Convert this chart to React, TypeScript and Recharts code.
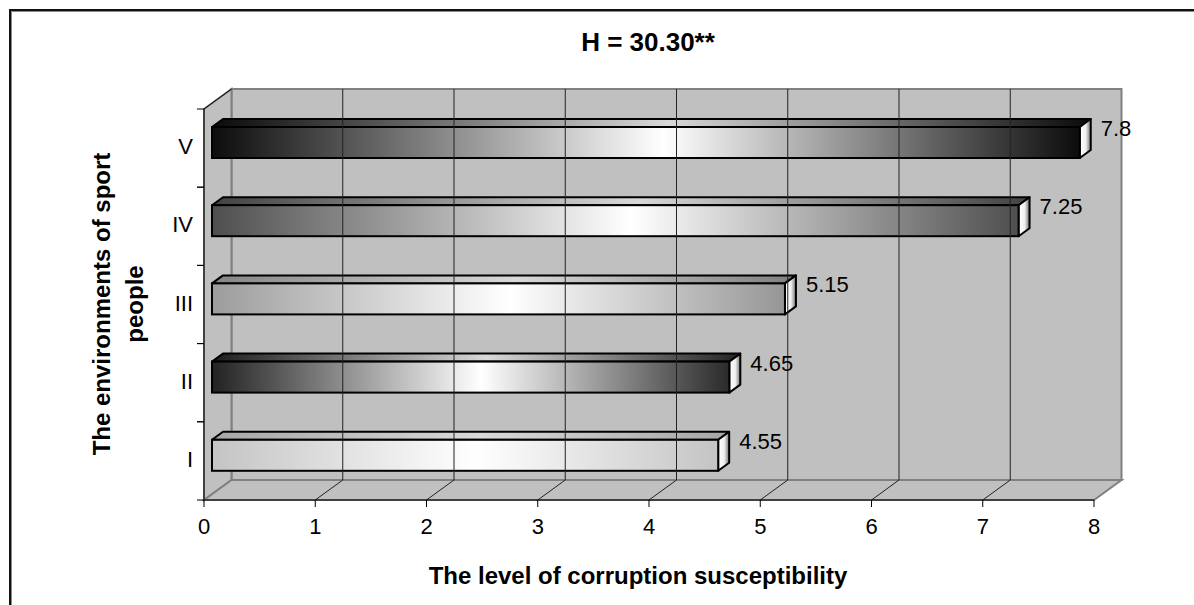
import React from 'react';
import { BarChart, Bar, XAxis, YAxis, ReferenceArea, ReferenceLine, LabelList } from 'recharts';

// ---- data ----
const categories = ['I', 'II', 'III', 'IV', 'V'];
const values = [4.55, 4.65, 5.15, 7.25, 7.8];
const xTicks = [0, 1, 2, 3, 4, 5, 6, 7, 8];
const gridTicks = [1, 2, 3, 4, 5, 6, 7];
const chartTitle = 'H = 30.30**';
const xTitle = 'The level of corruption susceptibility';
const yTitleLines = ['The environments of sport', 'people'];

// ---- styles ----
const edgeLeft = ['#c4c4c4', '#222222', '#9c9c9c', '#4e4e4e', '#0c0c0c'];
const edgeRight = ['#c4c4c4', '#2a2a2a', '#969696', '#4e4e4e', '#0c0c0c'];
const FONT = '"Liberation Sans", Arial, Helvetica, sans-serif';
const WALL_DX = 27.5;
const WALL_DY = -20;
const BAR_DX = 8;
const BAR_DY = -6;
const DEPTH_DX = 11;
const DEPTH_DY = -8;

const data = categories.map((c, i) => ({ name: c, value: values[i], idx: i }));

const Walls = (p: any) => {
  const { x, y, width, height } = p;
  const l = x, r = x + width, t = y, b = y + height;
  const dx = WALL_DX, dy = WALL_DY;
  return (
    <g>
      <polygon points={`${l + dx},${t + dy} ${r + dx},${t + dy} ${r + dx},${b + dy} ${l + dx},${b + dy}`} fill="#c0c0c0" stroke="#808080" strokeWidth={2} />
      <polygon points={`${l},${t} ${l + dx},${t + dy} ${l + dx},${b + dy} ${l},${b}`} fill="#c0c0c0" stroke="#808080" strokeWidth={2} />
      <polygon points={`${l},${b} ${l + dx},${b + dy} ${r + dx},${b + dy} ${r},${b}`} fill="#c0c0c0" stroke="#808080" strokeWidth={2} />
      <line x1={l} y1={t} x2={l + dx} y2={t + dy} stroke="#000" strokeWidth={1} />
    </g>
  );
};

const GridShape = (p: any) => {
  const { x1, y1, y2 } = p;
  if (x1 == null) return <g />;
  const top = Math.min(y1, y2), bot = Math.max(y1, y2);
  return (
    <g>
      <line x1={x1 + WALL_DX} y1={top + WALL_DY} x2={x1 + WALL_DX} y2={bot + WALL_DY} stroke="#222" strokeWidth={1} />
      <line x1={x1} y1={bot} x2={x1 + WALL_DX} y2={bot + WALL_DY} stroke="#222" strokeWidth={1} />
    </g>
  );
};

const Bar3D = (p: any) => {
  const { x, y, width, height } = p;
  const i = p.payload && p.payload.idx != null ? p.payload.idx : p.index;
  const fx = x + BAR_DX, fy = y + BAR_DY, w = width, h = height;
  const top = `${fx},${fy} ${fx + DEPTH_DX},${fy + DEPTH_DY} ${fx + w + DEPTH_DX},${fy + DEPTH_DY} ${fx + w},${fy}`;
  const end = `${fx + w},${fy} ${fx + w + DEPTH_DX},${fy + DEPTH_DY} ${fx + w + DEPTH_DX},${fy + h + DEPTH_DY} ${fx + w},${fy + h}`;
  return (
    <g>
      <polygon points={top} fill={`url(#gf${i})`} stroke="none" />
      <polygon points={top} fill="#000" fillOpacity={0.15} stroke="#000" strokeWidth={2} strokeLinejoin="round" />
      <polygon points={end} fill="url(#gend)" stroke="#000" strokeWidth={2} strokeLinejoin="round" />
      <rect x={fx} y={fy} width={w} height={h} fill={`url(#gf${i})`} stroke="#000" strokeWidth={2} />
    </g>
  );
};

const BarLabel = (p: any) => {
  const { x, y, width, value } = p;
  return (
    <text x={x + width + BAR_DX + DEPTH_DX + 10} y={y + BAR_DY + 9} fontSize={22} fontFamily={FONT} fill="#000">
      {value}
    </text>
  );
};

const YTick = (p: any) => {
  const { x, y, payload } = p;
  const off = payload && payload.offset ? payload.offset : 39.1;
  const ax = x + 11;
  return (
    <g>
      <line x1={ax - 7} y1={y - off} x2={ax} y2={y - off} stroke="#000" strokeWidth={1} />
      <line x1={ax - 7} y1={y + off} x2={ax} y2={y + off} stroke="#000" strokeWidth={1} />
      <text x={x} y={y + 6} textAnchor="end" fontSize={22} fontFamily={FONT} fill="#000">{payload.value}</text>
    </g>
  );
};

export default function App() {
  return (
    <div style={{ position: 'absolute', left: 0, top: 0, width: 1194, height: 605, overflow: 'hidden', background: '#fff' }}>
      <div style={{ position: 'absolute', left: 9, top: 9, width: 1300, height: 700, borderTop: '2px solid #111', borderLeft: '2px solid #111', boxShadow: 'inset 1px 1px 0 #888' }} />
      <div style={{ position: 'absolute', left: 0, top: 0 }}>
        <BarChart width={1194} height={605} data={data} layout="vertical" margin={{ top: 109, right: 100, left: 144, bottom: 75 }} barSize={31}>
          <defs>
            {categories.map((c, i) => (
              <linearGradient key={c} id={`gf${i}`} x1="0" y1="0" x2="1" y2="0">
                <stop offset="0" stopColor={edgeLeft[i]} />
                <stop offset="0.52" stopColor="#ffffff" />
                <stop offset="1" stopColor={edgeRight[i]} />
              </linearGradient>
            ))}
            <linearGradient id="gend" x1="0" y1="0" x2="1" y2="0">
              <stop offset="0" stopColor="#ffffff" />
              <stop offset="0.55" stopColor="#f0f0f0" />
              <stop offset="1" stopColor="#707070" />
            </linearGradient>
          </defs>
          <ReferenceArea x1={0} x2={8} shape={Walls} fill="none" ifOverflow="visible" />
          {gridTicks.map((t) => (
            <ReferenceLine key={t} x={t} shape={GridShape} ifOverflow="visible" />
          ))}
          <XAxis
            type="number"
            domain={[0, 8]}
            ticks={xTicks}
            interval={0}
            height={30}
            tickSize={7}
            tickMargin={11}
            axisLine={{ stroke: '#000', strokeWidth: 1 }}
            tickLine={{ stroke: '#000' }}
            tick={{ fontSize: 22, fontFamily: FONT, fill: '#000' }}
          />
          <YAxis
            type="category"
            dataKey="name"
            reversed
            width={60}
            tickSize={7}
            tickMargin={4}
            interval={0}
            axisLine={{ stroke: '#000', strokeWidth: 1 }}
            tickLine={false}
            tick={<YTick />}
          />
          <Bar dataKey="value" isAnimationActive={false} shape={<Bar3D />}>
            <LabelList dataKey="value" content={<BarLabel />} />
          </Bar>
        </BarChart>
      </div>
      <svg width={1194} height={605} style={{ position: 'absolute', left: 0, top: 0, pointerEvents: 'none' }}>
        <text x={648} y={51} textAnchor="middle" fontSize={26} fontWeight="bold" fontFamily={FONT} fill="#000">{chartTitle}</text>
        <text x={638} y={584} textAnchor="middle" fontSize={24} fontWeight="bold" fontFamily={FONT} fill="#000">{xTitle}</text>
        <text transform="translate(110,304) rotate(-90)" textAnchor="middle" fontSize={24} fontWeight="bold" fontFamily={FONT} fill="#000">{yTitleLines[0]}</text>
        <text transform="translate(143,304) rotate(-90)" textAnchor="middle" fontSize={24} fontWeight="bold" fontFamily={FONT} fill="#000">{yTitleLines[1]}</text>
      </svg>
    </div>
  );
}
